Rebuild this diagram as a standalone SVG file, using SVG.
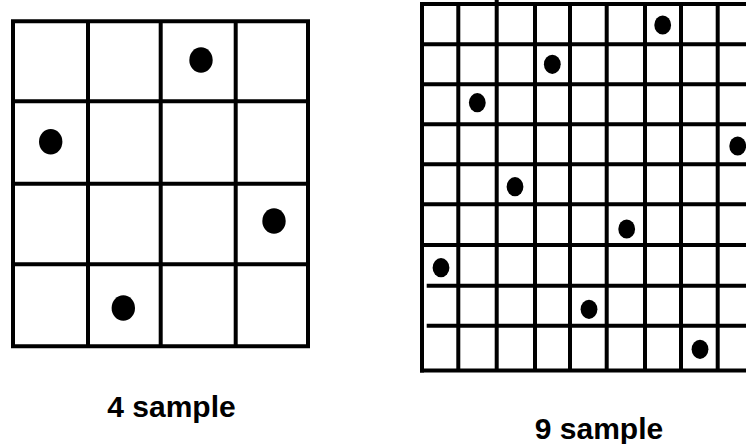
<svg xmlns="http://www.w3.org/2000/svg" width="746" height="444" viewBox="0 0 746 444">
<style>
.g{stroke:#000;stroke-width:4;fill:none;stroke-linecap:butt}
.d{fill:#000}
.t{font-family:"Liberation Sans",Arial,sans-serif;font-weight:bold;font-size:30px;fill:#000;text-anchor:middle}
</style>
<rect width="746" height="444" fill="#fff"/>
<g id="grid4">
<path class="g" d="M13,21.3V346.3M88,21.3V346.3M160.7,21.3V346.3M235.7,21.3V346.3M308,21.3V346.3M11,21.3H310M11,101.3H310M11,183.7H310M11,264.3H310M11,346.3H310"/>
<ellipse class="d" cx="201" cy="60" rx="11.7" ry="12.8"/>
<ellipse class="d" cx="50.7" cy="141.7" rx="11.7" ry="12.8"/>
<ellipse class="d" cx="274" cy="221" rx="11.7" ry="12.8"/>
<ellipse class="d" cx="123.3" cy="308" rx="11.7" ry="12.8"/>
</g>
<g id="grid9">
<path class="g" d="M422,2V372.5M458.3,4V370.5M496.7,0V370.5M535,4V370.5M570,4V370.5M606.7,4V370.5M645,4V370.5M681,4V370.5M717.7,4V370.5"/>
<path class="g" d="M420,4H750M420,44.3H750M420,84.3H750M420,124.3H750M420,164.3H750M420,204.3H750M420,245H750M426.7,285.7H750M426.7,325.7H750M420,370.5H750"/>
<ellipse class="d" cx="662.7" cy="25" rx="8.4" ry="9.6"/>
<ellipse class="d" cx="552.3" cy="64.3" rx="8.4" ry="9.6"/>
<ellipse class="d" cx="477.3" cy="102.7" rx="8.4" ry="9.6"/>
<ellipse class="d" cx="737.7" cy="146" rx="8.4" ry="9.6"/>
<ellipse class="d" cx="515" cy="186.7" rx="8.4" ry="9.6"/>
<ellipse class="d" cx="626.7" cy="229" rx="8.4" ry="9.6"/>
<ellipse class="d" cx="441" cy="267.7" rx="8.4" ry="9.6"/>
<ellipse class="d" cx="589" cy="309.3" rx="8.4" ry="9.6"/>
<ellipse class="d" cx="700" cy="349.3" rx="8.4" ry="9.6"/>
</g>
<text id="label4" class="t" x="171.5" y="417">4 sample</text>
<text id="label9" class="t" x="599" y="439">9 sample</text>
</svg>
